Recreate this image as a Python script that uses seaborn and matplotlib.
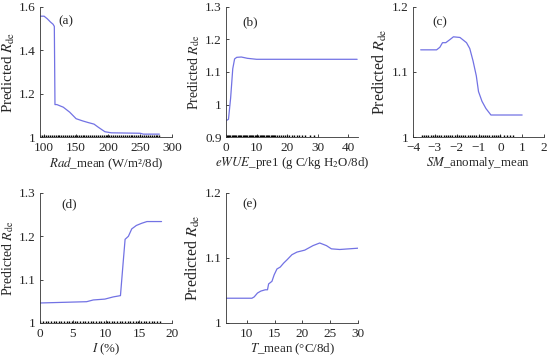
import numpy as np
import pandas as pd
import matplotlib
matplotlib.use('Agg')
import matplotlib.pyplot as plt
import seaborn as sns

# ── data ──────────────────────────────────────────────────────────────────────
rad_x = [93, 100, 105, 110, 114, 116, 117, 120, 130, 140, 150, 160, 168, 178, 185, 190, 195, 205, 250, 255, 280]
rad_y = [1.557, 1.557, 1.545, 1.53, 1.52, 1.51, 1.15, 1.15, 1.138, 1.115, 1.085, 1.075, 1.068, 1.06,
         1.045, 1.035, 1.025, 1.02, 1.018, 1.014, 1.014]
rad_rug = [94, 97, 100, 103, 106, 109, 112, 115, 118, 121, 124, 127, 130, 133, 136, 139, 142, 145, 148,
           151, 154, 157, 160, 163, 166, 169, 172, 175, 178, 181, 184, 187, 190, 193, 196, 199, 202,
           205, 208, 211, 214, 217, 220, 223, 226, 229, 232, 235, 238, 241, 244, 247, 250, 253, 256,
           259, 262, 265, 268, 271, 274, 277, 280]

wue_x = [0.3, 0.8, 1.5, 2.2, 2.8, 3.5, 5, 7, 10, 20, 43]
wue_y = [0.952, 0.955, 1.02, 1.11, 1.14, 1.145, 1.146, 1.142, 1.139, 1.139, 1.139]
wue_rug = [0.2, 0.6, 1.0, 1.4, 1.8, 2.2, 2.6, 3.0, 3.4, 3.8, 4.2, 4.6, 5.0, 5.4, 5.8, 6.2, 6.6, 7.0,
           7.4, 7.8, 8.2, 8.6, 9.0, 9.4, 9.8, 10.2, 10.6, 11.0, 11.4, 11.8, 12.2, 12.6, 13.0, 13.4,
           13.8, 14.2, 14.6, 15.0, 15.4, 15.8, 16.2, 16.8, 17.4, 18.0, 18.6, 19.2, 20.0, 20.8, 21.6,
           22.4, 23.2, 24.0, 25.0, 26.0, 27.5, 29.0]

sm_x = [-3.65, -2.92, -2.77, -2.65, -2.5, -2.3, -2.15, -1.85, -1.7, -1.55, -1.4, -1.25, -1.1, -1.0,
        -0.84, -0.66, -0.43, 1.0]
sm_y = [1.134, 1.134, 1.138, 1.145, 1.145, 1.150, 1.154, 1.153, 1.149, 1.145, 1.136, 1.117, 1.094,
        1.07, 1.055, 1.044, 1.034, 1.034]
sm_rug = [-3.6, -3.5, -3.4, -3.3, -3.2, -3.1, -3.0, -2.9, -2.8, -2.7, -2.6, -2.5, -2.4, -2.3, -2.2,
          -2.1, -2.0, -1.9, -1.8, -1.7, -1.6, -1.5, -1.4, -1.3, -1.2, -1.1, -1.0, -0.9, -0.8, -0.7,
          -0.6, -0.5, -0.4, -0.3, -0.2, -0.1, 0.0, 0.15, 0.3, 0.45, 0.6]

i_x = [0, 7.1, 8.1, 9.85, 11.1, 12.2, 12.6, 12.9, 13.4, 13.9, 14.6, 15.4, 16.2, 18.4]
i_y = [1.046, 1.049, 1.053, 1.055, 1.06, 1.063, 1.138, 1.193, 1.2, 1.217, 1.225, 1.23, 1.234, 1.234]
i_rug = [0.1, 0.5, 0.9, 1.3, 1.7, 2.1, 2.5, 2.9, 3.3, 3.7, 4.1, 4.5, 4.9, 5.3, 5.7, 6.1, 6.5, 6.9,
         7.3, 7.7, 8.1, 8.5, 8.9, 9.3, 9.7, 10.1, 10.5, 10.9, 11.3, 11.7, 12.1, 12.5, 12.9, 13.3,
         13.7, 14.1, 14.5, 14.9, 15.3, 15.7, 16.1, 16.5, 16.9, 17.3, 17.7, 18.1]

t_x = [6.24, 10.9, 11.3, 11.9, 12.5, 13.3, 13.7, 13.9, 14.5, 14.9, 15.4, 16.0, 16.6, 17.2, 18.1,
       19.0, 20.4, 21.9, 23.1, 24.3, 25.2, 26.7, 30.0]
t_y = [1.038, 1.038, 1.04, 1.046, 1.049, 1.051, 1.051, 1.06, 1.064, 1.074, 1.083, 1.086, 1.092,
       1.097, 1.105, 1.109, 1.112, 1.119, 1.123, 1.119, 1.114, 1.113, 1.115]

LINE_COLOR = '#7272e4'

sns.set_theme(style='ticks')
plt.rcParams['font.family'] = ['Liberation Serif', 'DejaVu Serif']
plt.rcParams['mathtext.fontset'] = 'stix'
plt.rcParams['xtick.direction'] = 'in'
plt.rcParams['ytick.direction'] = 'in'

fig = plt.figure(figsize=(5.5, 3.6), dpi=100)

panels = [
    # x, y, rug, xlim, ylim, yticks, xticks, xlabel, tag, tag pos, ylabel size, ylabel pad, axes rect
    (rad_x, rad_y, rad_rug, (93, 300), (1, 1.6), [1, 1.2, 1.4, 1.6], [100, 150, 200, 250, 300],
     r'$\mathit{Rad}$_mean (W/m²/8d)', '(a)', (0.14, 0.89), 10.8, 1, [0.072, 0.619, 0.241, 0.362]),
    (wue_x, wue_y, wue_rug, (0, 43.3), (0.9, 1.3), [0.9, 1, 1.1, 1.2, 1.3], [0, 10, 20, 30, 40],
     r'$\mathit{eWUE}$_pre1 (g C/kg H$_2$O/8d)', '(b)', (0.12, 0.88), 10, 2, [0.411, 0.619, 0.240, 0.362]),
    (sm_x, sm_y, sm_rug, (-4, 2), (1, 1.2), [1, 1.1, 1.2], [-4, -3, -2, -1, 0, 1, 2],
     r'$\mathit{SM}$_anomaly_mean', '(c)', (0.145, 0.88), 11.5, 2, [0.751, 0.619, 0.238, 0.362]),
    (i_x, i_y, i_rug, (0, 20), (1, 1.3), [1, 1.1, 1.2, 1.3], [0, 5, 10, 15, 20],
     r'$\mathit{I}$ (%)', '(d)', (0.165, 0.91), 10, 2, [0.072, 0.103, 0.241, 0.361]),
    (t_x, t_y, None, (6.24, 30), (1, 1.2), [1, 1.1, 1.2], [10, 15, 20, 25, 30],
     r'$\mathit{T}$_mean (°C/8d)', '(e)', (0.12, 0.91), 11.5, 2, [0.411, 0.103, 0.240, 0.361]),
]

for x, y, rug, xlim, ylim, yticks, xticks, xlabel, tag, tagpos, ysize, ypad, rect in panels:
    ax = fig.add_axes(rect)
    df = pd.DataFrame({'x': x, 'y': y})
    sns.lineplot(data=df, x='x', y='y', sort=False, estimator=None, color=LINE_COLOR, lw=0.9, ax=ax)
    if rug is not None:
        sns.rugplot(x=rug, height=0.014, color='black', lw=2.2, ax=ax)
    ax.set_xlim(*xlim)
    ax.set_ylim(*ylim)
    ax.set_yticks(yticks)
    ax.set_yticklabels([f'{v:g}' for v in yticks])
    ax.set_xticks(xticks)
    ax.set_xticklabels([f'{v:g}'.replace('-', '\u2212') for v in xticks])
    ax.set_xlabel(xlabel, fontsize=9.3, labelpad=1)
    ax.set_ylabel(r'Predicted $R_{\mathrm{de}}$', fontsize=ysize, labelpad=ypad)
    ax.tick_params(labelsize=9.5, length=2.5, width=0.6)
    ax.tick_params(axis='x', pad=3.5)
    ax.tick_params(axis='y', pad=3)
    for s in ['top', 'right']:
        ax.spines[s].set_visible(False)
    for s in ['left', 'bottom']:
        ax.spines[s].set_linewidth(0.6)
        ax.spines[s].set_color('#333333')
    ax.text(tagpos[0], tagpos[1], tag, transform=ax.transAxes, fontsize=9.5, va='center')

fig.savefig('out.png', dpi=100)
